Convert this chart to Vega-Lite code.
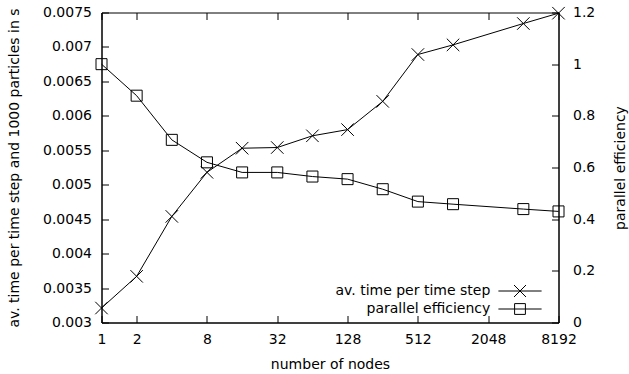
{
  "$schema": "https://vega.github.io/schema/vega-lite/v6.json",
  "width": 457,
  "height": 310,
  "autosize": {"type": "none"},
  "padding": {"left": 101.5, "top": 12.5, "right": 70.5, "bottom": 51.5},
  "background": "white",
  "config": {
    "font": "DejaVu Sans",
    "view": {"stroke": "black", "strokeWidth": 1},
    "axis": {
      "labelFont": "DejaVu Sans",
      "labelFontSize": 14,
      "labelColor": "black",
      "titleFont": "DejaVu Sans",
      "titleFontSize": 14,
      "titleFontWeight": "normal",
      "titleColor": "black",
      "tickColor": "black",
      "tickWidth": 1,
      "domainColor": "black",
      "domainWidth": 1,
      "grid": false,
      "labelFlush": false,
      "labelOverlap": false
    }
  },
  "data": {
    "values": [
      {"nodes": 1, "time": 0.00321, "eff": 1.0},
      {"nodes": 2, "time": 0.00367, "eff": 0.878},
      {"nodes": 4, "time": 0.00454, "eff": 0.707},
      {"nodes": 8, "time": 0.00518, "eff": 0.62},
      {"nodes": 16, "time": 0.00553, "eff": 0.581},
      {"nodes": 32, "time": 0.00554, "eff": 0.581},
      {"nodes": 64, "time": 0.00571, "eff": 0.565},
      {"nodes": 128, "time": 0.0058, "eff": 0.555},
      {"nodes": 256, "time": 0.00621, "eff": 0.516},
      {"nodes": 512, "time": 0.00689, "eff": 0.468},
      {"nodes": 1024, "time": 0.00703, "eff": 0.458},
      {"nodes": 4096, "time": 0.00734, "eff": 0.439},
      {"nodes": 8192, "time": 0.00749, "eff": 0.43}
    ]
  },
  "layer": [
    {
      "mark": {
        "type": "line",
        "strokeWidth": 1,
        "point": {
          "shape": "M-1,-1L1,1M-1,1L1,-1",
          "filled": false,
          "strokeWidth": 1,
          "size": 156,
          "opacity": 1
        }
      },
      "encoding": {
        "x": {
          "field": "nodes",
          "type": "quantitative",
          "scale": {"type": "log", "base": 2, "domain": [1, 8192], "nice": false},
          "axis": {
            "orient": "bottom",
            "values": [1, 2, 8, 32, 128, 512, 2048, 8192],
            "format": "d",
            "title": "number of nodes",
            "tickSize": -7,
            "labelPadding": 17,
            "titlePadding": 11
          }
        },
        "y": {
          "field": "time",
          "type": "quantitative",
          "scale": {"domain": [0.003, 0.0075], "nice": false, "zero": false},
          "axis": {
            "orient": "left",
            "values": [0.003, 0.0035, 0.004, 0.0045, 0.005, 0.0055, 0.006, 0.0065, 0.007, 0.0075],
            "format": "~g",
            "title": "av. time per time step and 1000 particles in s",
            "tickSize": -7,
            "labelPadding": 17,
            "titlePadding": 21
          }
        },
        "color": {
          "datum": "av. time per time step",
          "scale": {
            "domain": ["av. time per time step", "parallel efficiency"],
            "range": ["black", "black"]
          },
          "legend": {
            "title": null,
            "orient": "none",
            "legendX": 411.5,
            "legendY": 271.5,
            "padding": 0,
            "rowPadding": 2,
            "labelFont": "DejaVu Sans",
            "labelFontSize": 14,
            "labelColor": "black",
            "labelAlign": "right",
            "labelOffset": -36.7,
            "labelLimit": 400,
            "symbolSize": 144,
            "encode": {
              "symbols": {
                "update": {
                  "shape": {
                    "signal": "datum.value === 'av. time per time step' ? 'M-3.6,0H3.6M-1,-1L1,1M-1,1L1,-1' : 'M-3.6,0H3.6M-0.9,-0.9H0.9V0.9H-0.9Z'"
                  },
                  "size": {"value": 144},
                  "stroke": {"value": "black"},
                  "fill": {"value": "transparent"},
                  "strokeWidth": {"value": 1},
                  "opacity": {"value": 1}
                }
              }
            }
          }
        }
      }
    },
    {
      "mark": {
        "type": "line",
        "strokeWidth": 1,
        "point": {
          "shape": "square",
          "filled": false,
          "fill": "transparent",
          "strokeWidth": 1,
          "size": 121,
          "opacity": 1
        }
      },
      "encoding": {
        "x": {
          "field": "nodes",
          "type": "quantitative",
          "axis": {
            "orient": "top",
            "values": [1, 2, 8, 32, 128, 512, 2048, 8192],
            "labels": false,
            "title": null,
            "tickSize": -7,
            "domain": false
          }
        },
        "y": {
          "field": "eff",
          "type": "quantitative",
          "scale": {"domain": [0, 1.2], "nice": false},
          "axis": {
            "orient": "right",
            "values": [0, 0.2, 0.4, 0.6, 0.8, 1, 1.2],
            "format": "~g",
            "title": "parallel efficiency",
            "titleAngle": 270,
            "titleBaseline": "top",
            "tickSize": -7,
            "labelPadding": 21,
            "titlePadding": 19
          }
        },
        "color": {"datum": "parallel efficiency"}
      }
    }
  ],
  "resolve": {
    "scale": {"y": "independent"},
    "axis": {"x": "independent", "y": "independent"}
  }
}
